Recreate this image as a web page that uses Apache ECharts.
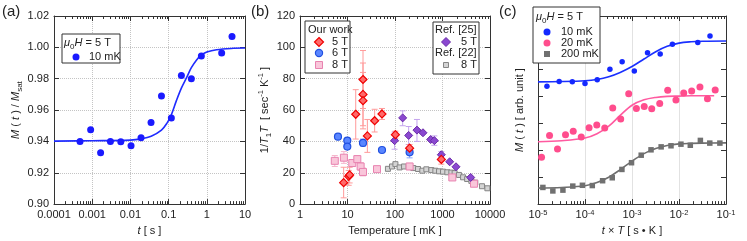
<!DOCTYPE html>
<html><head><meta charset="utf-8">
<script src="https://cdn.jsdelivr.net/npm/echarts@6/dist/echarts.min.js"></script>
<style>html,body{margin:0;padding:0;background:#fff}#c{width:747px;height:241px}</style>
</head><body><div id="c"></div><script>
// ---------- Panel (a) ----------
const aTime = [0.00048, 0.00091, 0.00166, 0.0030, 0.0056, 0.0104, 0.019, 0.0347, 0.065, 0.118, 0.216, 0.394, 0.72, 2.45, 4.57];
const aMag  = [0.9400, 0.9474, 0.9328, 0.9400, 0.9398, 0.9372, 0.9424, 0.9520, 0.9690, 0.9550, 0.9820, 0.9800, 0.9945, 0.9964, 1.0069];
const aFitTime = [0.0001, 0.001, 0.01, 0.019, 0.035, 0.065, 0.09, 0.118, 0.16, 0.216, 0.30, 0.394, 0.54, 0.72, 1.0, 1.8, 5, 10];
const aFitMag  = [0.9402, 0.9404, 0.9408, 0.9416, 0.9433, 0.9472, 0.9515, 0.9570, 0.9660, 0.9740, 0.9810, 0.9870, 0.9920, 0.9950, 0.9970, 0.9985, 0.9994, 0.9996];
const aXTicks = [-4, 1];
const aYTicks = [0.90, 1.02, 0.02];

// ---------- Panel (b) ----------
const bRedT   = [8.3, 10.6, 11.1, 14.9, 21.2, 21.2, 21.2, 26.2, 37.3, 53.2, 102, 203, 945];
const bRedV   = [13.7, 17.7, 18.6, 57.3, 79.5, 70, 66, 43.5, 53.2, 57.5, 44.3, 35.7, 28.5];
const bRedLo  = [4, 12, 13.5, 41.5, 61, 50, 48, 33, 46, 54, 42, 33.5, 25.5];
const bRedHi  = [23.5, 21.5, 23.5, 73, 98, 90, 84, 54, 60.5, 61, 46.5, 38, 31.5];
const bBlueT  = [6.3, 9.9, 9.9, 21.2, 53.2, 203];
const bBlueV  = [43, 40.5, 36.7, 39, 34.5, 33];
const bBlueLo = [null, null, null, 37, null, 29.5];
const bBlueHi = [null, null, null, 41.5, null, 36.5];
const bPinkT  = [5.4, 8.4, 12.6, 16.1, 18.9, 21.2, 41.8, 203, 1610, 4600];
const bPinkV  = [27.6, 29.6, 26.2, 28.7, 24.0, 20.5, 22.3, 24.0, 17.0, 13.0];
const bPinkLo = [24, 26, 24.5, 26.5, 21.5, 18, null, 22, null, null];
const bPinkHi = [31, 33.5, 28, 31, 26.5, 23, null, 26, null, null];
const bPurT   = [98, 145, 194, 290, 388, 563, 673, 945, 1415, 1924, 3920];
const bPurV   = [40.5, 55, 43.8, 47.2, 45.5, 41.2, 40.5, 31.5, 27, 23.8, 17];
const bPurLo  = [35, 50, 38, 40, null, null, 37.5, 29.5, null, null, null];
const bPurHi  = [46, 59.5, 49.5, 54, null, null, 43.5, 33.5, null, null, null];
const bGrayT  = [71, 86.5, 102, 125, 155, 194, 243, 305, 376, 457, 582, 707, 845, 1025, 1263, 1535, 1800, 2220, 2710, 3300, 4050, 4900, 6780, 8800];
const bGrayV  = [22.5, 24.0, 25.5, 23.4, 24, 24, 23, 22.4, 21.3, 22.2, 21.7, 21.3, 20.9, 20.7, 20.3, 20.1, 19.8, 18.6, 17.1, 16, 14.8, 13.7, 11.4, 10.1];
const bXTicks = [0, 4];
const bYTicks = [0, 120, 20];

// ---------- Panel (c) ----------
const cBlueX = [1.55e-5, 2.82e-5, 5.37e-5, 1.0e-4, 1.82e-4, 3.39e-4, 6.17e-4, 1.12e-3, 2.14e-3, 3.98e-3, 7.24e-3, 2.51e-2, 4.57e-2];
const cBlueY = [4.39, 4.56, 4.55, 4.49, 4.63, 5.02, 5.30, 4.95, 5.63, 5.59, 5.95, 6.01, 6.26];
const cPinkX = [1.19e-5, 1.76e-5, 2.6e-5, 3.85e-5, 5.62e-5, 8.32e-5, 1.22e-4, 1.78e-4, 2.63e-4, 3.89e-4, 5.75e-4, 8.51e-4, 1.24e-3, 1.82e-3, 2.63e-3, 3.89e-3, 5.75e-3, 8.61e-3, 1.26e-2, 1.86e-2, 2.79e-2, 4.03e-2, 5.89e-2];
const cPinkY = [1.74, 2.55, 2.05, 2.58, 2.71, 2.50, 2.84, 2.94, 2.83, 3.58, 3.17, 4.11, 3.56, 3.63, 3.55, 3.74, 4.24, 3.87, 4.13, 4.21, 4.36, 3.92, 4.25];
const cGrayX = [1.27e-5, 2.07e-5, 3.39e-5, 5.5e-5, 8.81e-5, 1.43e-4, 2.37e-4, 3.8e-4, 6.1e-4, 9.77e-4, 1.57e-3, 2.54e-3, 4.17e-3, 6.76e-3, 1.1e-2, 1.74e-2, 2.85e-2, 4.52e-2, 7.41e-2];
const cGrayY = [0.62, 0.49, 0.52, 0.67, 0.70, 0.69, 0.87, 0.98, 1.29, 1.54, 1.82, 2.02, 2.13, 2.17, 2.23, 2.19, 2.37, 2.27, 2.27];
const cFitX     = [1e-5, 3.2e-5, 1e-4, 1.8e-4, 3.2e-4, 5.6e-4, 1e-3, 1.8e-3, 3.2e-3, 5.6e-3, 1e-2, 1.8e-2, 3.2e-2, 1e-1];
const cFitBlue  = [4.55, 4.56, 4.59, 4.64, 4.74, 4.90, 5.12, 5.40, 5.67, 5.87, 5.99, 6.04, 6.06, 6.07];
const cFitPinkX = [1e-5, 3.2e-5, 1e-4, 1.8e-4, 3.2e-4, 5.6e-4, 1e-3, 1.8e-3, 3.2e-3, 5.6e-3, 1e-2, 1.8e-2, 3.2e-2, 5.6e-2];
const cFitPink  = [2.32, 2.36, 2.46, 2.62, 2.90, 3.30, 3.68, 3.88, 3.97, 4.01, 4.02, 4.03, 4.03, 4.03];
const cFitGray  = [0.60, 0.62, 0.68, 0.80, 1.00, 1.28, 1.60, 1.88, 2.07, 2.18, 2.24, 2.26, 2.27, 2.28];
const cXTicks = [-5, -1];
const cYTicks = [0, 7, 1];

// ---------- helpers ----------
const FONT = 'Liberation Sans, Arial, Helvetica, sans-serif';
const TXT = '#222';
const AX = '#333';
const zip = (xs, ys) => xs.map((x, i) => [x, ys[i]]);
const errData = (xs, lo, hi) => xs.map((x, i) => [x, lo[i], hi[i]]).filter(d => d[1] != null);

const RICH = {
  n:   {fontSize: 11, fontFamily: FONT, color: TXT, lineHeight: 16},
  i:   {fontSize: 11, fontFamily: FONT, color: TXT, fontStyle: 'italic', lineHeight: 16},
  sub: {fontSize: 8, fontFamily: FONT, color: TXT, verticalAlign: 'bottom', lineHeight: 9},
  sup: {fontSize: 7.5, fontFamily: FONT, color: TXT, verticalAlign: 'top', lineHeight: 9}
};
const GRICH = {};
for (const k in RICH) { const r = Object.assign({}, RICH[k]); r.fill = r.color; delete r.color; GRICH[k] = r; }

function minorLogs(e0, e1) {
  const out = [];
  for (let e = e0; e < e1; e++) for (let k = 2; k <= 9; k++) out.push(e + Math.log10(k));
  return out;
}

const xAxes = [], yAxes = [];
function addLogX(g, dec, fmt, labelRich, name, nameGap, grid) {
  const base = {type: 'log', logBase: 10, gridIndex: g, min: Math.pow(10, dec[0]), max: Math.pow(10, dec[1])};
  const idx = xAxes.length;
  const line = {show: true, onZero: false, lineStyle: {color: AX, width: 1}};
  xAxes.push(Object.assign({}, base, {
    position: 'bottom', axisLine: line,
    axisTick: {show: true, inside: true, length: 5, lineStyle: {color: AX}},
    axisLabel: {show: true, fontFamily: FONT, fontSize: 11, color: TXT, margin: 5, formatter: fmt, rich: labelRich, showMinLabel: true, showMaxLabel: true, hideOverlap: false},
    splitLine: {show: true, lineStyle: grid},
    name: name, nameLocation: 'middle', nameGap: nameGap,
    nameTextStyle: {fontFamily: FONT, fontSize: 11, color: TXT, rich: RICH}
  }));
  xAxes.push(Object.assign({}, base, {
    position: 'top', axisLine: line,
    axisTick: {show: true, inside: true, length: 5, lineStyle: {color: AX}},
    axisLabel: {show: false}, splitLine: {show: false}
  }));
  // minor ticks: linear helper axis in decade units
  const mv = minorLogs(dec[0], dec[1]);
  ['bottom', 'top'].forEach(p => xAxes.push({
    type: 'value', gridIndex: g, min: dec[0], max: dec[1], position: p, axisLine: {show: false, onZero: false},
    axisTick: {show: true, inside: true, length: 3, customValues: mv, lineStyle: {color: AX}},
    axisLabel: {show: false}, splitLine: {show: false}
  }));
  return idx;
}
function addY(g, t, fmt, showLabel, name, nameGap, grid) {
  const base = {type: 'value', gridIndex: g, min: t[0], max: t[1], interval: t[2]};
  const idx = yAxes.length;
  yAxes.push(Object.assign({}, base, {
    position: 'left', axisLine: {show: true, onZero: false, lineStyle: {color: AX}},
    axisTick: {show: true, inside: true, length: 5, lineStyle: {color: AX}},
    axisLabel: {show: showLabel, fontFamily: FONT, fontSize: 11, color: TXT, margin: 5, formatter: fmt},
    splitLine: {show: !!grid, lineStyle: grid || {}},
    name: name, nameLocation: 'middle', nameGap: nameGap,
    nameTextStyle: {fontFamily: FONT, fontSize: 11, color: TXT, rich: RICH}
  }));
  yAxes.push(Object.assign({}, base, {
    position: 'right', axisLine: {show: true, onZero: false, lineStyle: {color: AX}},
    axisTick: {show: true, inside: true, length: 5, lineStyle: {color: AX}},
    axisLabel: {show: false}, splitLine: {show: false}
  }));
  return idx;
}

const dotted = {type: 'dotted', color: '#c4c4c4', width: 1};
const xa = addLogX(0, aXTicks, v => String(v), null, '{i|t} [ s ]', 17, dotted);
const ya = addY(0, aYTicks, v => v.toFixed(2), true, '{i|M} ( {i|t} ) / {i|M}{sub|sat}', 23, dotted);
const xb = addLogX(1, bXTicks, v => String(v), null, 'Temperature [ mK ]', 17, dotted);
const yb = addY(1, bYTicks, v => String(v), true, '1/{i|T}{sub|1}{i|T}  [ sec{sup|-1} K{sup|-1} ]', 27, dotted);
const xc = addLogX(2, cXTicks, v => '10{e|' + Math.round(Math.log10(v)) + '}',
  {e: {fontSize: 7.5, fontFamily: FONT, color: TXT, verticalAlign: 'top', lineHeight: 10}}, '{i|t} × {i|T} [ s • K ]', 18, {type: 'solid', color: '#e2e2e2'});
const yc = addY(2, cYTicks, null, false, '{i|M} ( {i|t} ) [ arb. unit ]', 10, null);

function errSeries(xAxisIndex, yAxisIndex, data, color) {
  return {
    type: 'custom', xAxisIndex, yAxisIndex, data, z: 1, silent: true,
    encode: {x: 0, y: [1, 2]},
    renderItem: (params, api) => {
      const x = api.value(0);
      const p1 = api.coord([x, api.value(1)]);
      const p2 = api.coord([x, api.value(2)]);
      const w = 3, st = {stroke: color, lineWidth: 1};
      return {type: 'group', children: [
        {type: 'line', shape: {x1: p1[0], y1: p1[1], x2: p2[0], y2: p2[1]}, style: st},
        {type: 'line', shape: {x1: p1[0] - w, y1: p1[1], x2: p1[0] + w, y2: p1[1]}, style: st},
        {type: 'line', shape: {x1: p2[0] - w, y1: p2[1], x2: p2[0] + w, y2: p2[1]}, style: st}
      ]};
    }
  };
}
function scatter(xi, yi, data, symbol, size, fill, stroke, bw) {
  return {type: 'scatter', xAxisIndex: xi, yAxisIndex: yi, data, symbol, symbolSize: size, z: 3, silent: true,
    itemStyle: {color: fill, borderColor: stroke, borderWidth: bw || 0, opacity: 1}};
}
function curve(xi, yi, data, color) {
  return {type: 'line', xAxisIndex: xi, yAxisIndex: yi, data, smooth: 0.35, showSymbol: false, z: 2, silent: true,
    lineStyle: {color, width: 1.6}};
}

const series = [
  curve(xa, ya, zip(aFitTime, aFitMag), '#1f2bff'),
  scatter(xa, ya, zip(aTime, aMag), 'circle', 7, '#1a1aff', '#1a1aff', 0),

  scatter(xb, yb, zip(bGrayT, bGrayV), 'rect', 5, '#d4d4d4', '#858585', 1),
  errSeries(xb, yb, errData(bPinkT, bPinkLo, bPinkHi), '#f5b6cc'),
  scatter(xb, yb, zip(bPinkT, bPinkV), 'rect', 7, '#f9c6da', '#e883b0', 1),
  errSeries(xb, yb, errData(bPurT, bPurLo, bPurHi), '#c4a4ee'),
  scatter(xb, yb, zip(bPurT, bPurV), 'diamond', 8, '#8a48d0', '#6a2aa8', 1),
  errSeries(xb, yb, errData(bBlueT, bBlueLo, bBlueHi), '#8aa8ff'),
  scatter(xb, yb, zip(bBlueT, bBlueV), 'circle', 7, '#5a86ff', '#1f4fe0', 1.2),
  errSeries(xb, yb, errData(bRedT, bRedLo, bRedHi), '#ff9a9a'),
  scatter(xb, yb, zip(bRedT, bRedV), 'diamond', 8, '#ff6a6a', '#f00000', 1.2),

  curve(xc, yc, zip(cFitX, cFitBlue), '#1a30ff'),
  curve(xc, yc, zip(cFitPinkX, cFitPink), '#ff5aa0'),
  curve(xc, yc, zip(cFitX, cFitGray), '#6e6e6e'),
  scatter(xc, yc, zip(cBlueX, cBlueY), 'circle', 5.5, '#1428ff'),
  scatter(xc, yc, zip(cPinkX, cPinkY), 'circle', 7, '#ff4d8d'),
  scatter(xc, yc, zip(cGrayX, cGrayY), 'rect', 5.5, '#707070')
];

// ---------- legends & labels (graphic) ----------
const Z = 100;
const box = (x, y, w, h) => ({type: 'rect', z: Z, shape: {x, y, width: w, height: h}, style: {fill: '#fff', stroke: AX, lineWidth: 1}});
const txt = (x, y, text, align, size) => ({type: 'text', z: Z + 1, x, y,
  style: {text, rich: GRICH, fontFamily: FONT, fontSize: size || 11, fill: TXT, align: align || 'left', verticalAlign: 'middle'}});
const circ = (cx, cy, r, fill, stroke, lw) => ({type: 'circle', z: Z + 1, shape: {cx, cy, r}, style: {fill, stroke: stroke || fill, lineWidth: lw || 0}});
const sq = (cx, cy, s, fill, stroke, lw) => ({type: 'rect', z: Z + 1, shape: {x: cx - s / 2, y: cy - s / 2, width: s, height: s}, style: {fill, stroke: stroke || fill, lineWidth: lw || 0}});
const dia = (cx, cy, r, fill, stroke, lw) => ({type: 'polygon', z: Z + 1, shape: {points: [[cx, cy - r], [cx + r, cy], [cx, cy + r], [cx - r, cy]]}, style: {fill, stroke, lineWidth: lw}});

const graphics = [
  txt(2, 12, '(a)', 'left', 15), txt(251, 12, '(b)', 'left', 15), txt(499, 12, '(c)', 'left', 15),
  box(62, 34, 58, 29),
  txt(64, 43, '{i|μ}{sub|0}{i|H} = 5 T'),
  circ(76, 57, 3.5, '#1a1aff'),
  txt(89, 57, '10 mK'),
  box(305, 21, 45, 52),
  txt(308, 30, 'Our work'),
  dia(319, 42, 4.5, '#ff6a6a', '#f00000', 1.2), txt(348, 42, '5 T', 'right'),
  circ(319, 53, 3.6, '#5a86ff', '#1f4fe0', 1.2), txt(348, 53, '6 T', 'right'),
  sq(319, 65, 7, '#f9c6da', '#e883b0', 1), txt(348, 65, '8 T', 'right'),
  box(433, 22, 46, 52),
  txt(435, 30, 'Ref. [25]'),
  dia(446, 42, 4.5, '#8a48d0', '#6a2aa8', 1), txt(477, 42, '5 T', 'right'),
  txt(435, 53, 'Ref. [22]'),
  sq(446, 65, 5, '#d4d4d4', '#858585', 1), txt(477, 65, '8 T', 'right'),
  box(533, 7, 67, 56),
  txt(536, 17, '{i|μ}{sub|0}{i|H} = 5 T'),
  circ(547, 32, 3.5, '#1428ff'), txt(561, 32, '10 mK'),
  circ(547, 43, 3.5, '#ff4d8d'), txt(561, 43, '20 mK'),
  sq(547, 54, 6, '#707070'), txt(561, 54, '200 mK')
];

const chart = echarts.init(document.getElementById('c'), null, {renderer: 'canvas'});
chart.setOption({
  animation: false,
  backgroundColor: '#fff',
  grid: [
    {left: 54, top: 16, width: 191, height: 189},
    {left: 300, top: 16, width: 190, height: 189},
    {left: 538, top: 16, width: 188, height: 189}
  ],
  xAxis: xAxes,
  yAxis: yAxes,
  series,
  graphic: {elements: graphics}
});
</script></body></html>
